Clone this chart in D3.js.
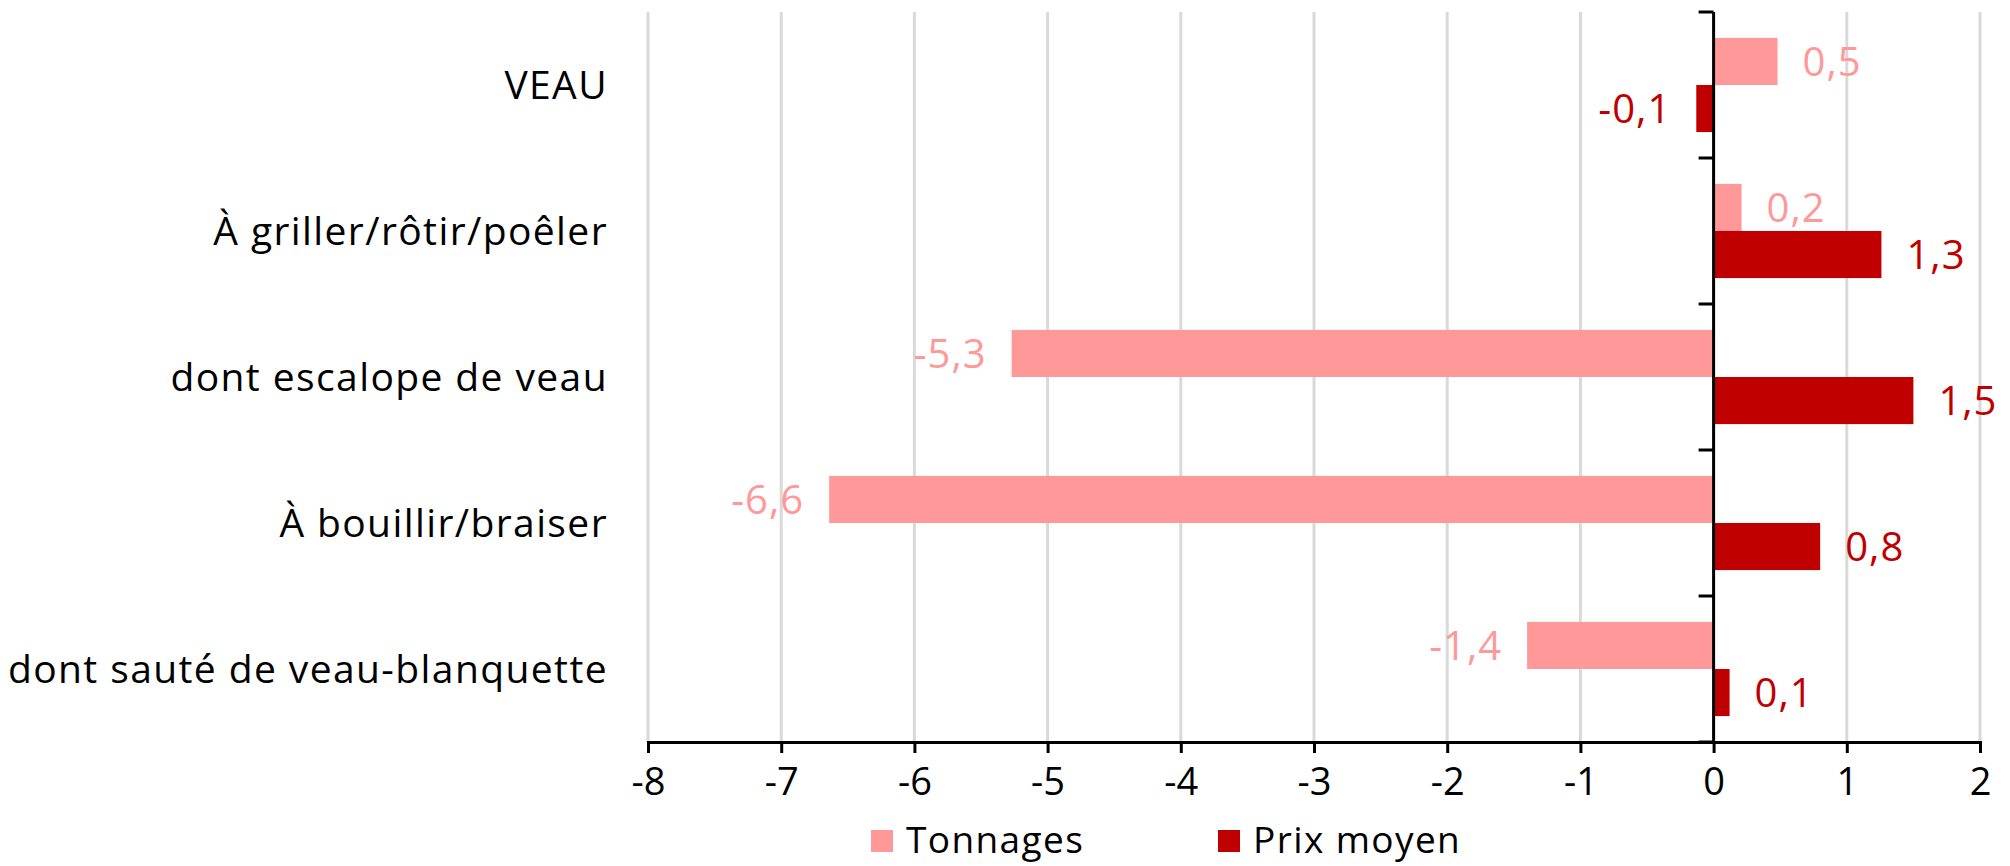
<!DOCTYPE html>
<html>
<head>
<meta charset="utf-8">
<script src="https://cdn.jsdelivr.net/npm/d3@7"></script>
<style>
  body { margin: 0; background: #fff; }
  text { font-family: "Open Sans", "Noto Sans", sans-serif; }
</style>
</head>
<body>
<script>
// categories, top to bottom
const categories = ["VEAU", "À griller/rôtir/poêler", "dont escalope de veau", "À bouillir/braiser", "dont sauté de veau-blanquette"];
const series = ["Tonnages", "Prix moyen"];
const tonnages = [0.48, 0.21, -5.27, -6.64, -1.40];
const prixMoyen = [-0.13, 1.26, 1.50, 0.80, 0.12];
const xTicks = [-8, -7, -6, -5, -4, -3, -2, -1, 0, 1, 2];

const colors = { "Tonnages": "#ff9999", "Prix moyen": "#c00000" };

const width = 2010, height = 866;
const plotLeft = 648, plotRight = 1980, plotTop = 12, plotBottom = 742;

// french number format: comma decimal, hyphen minus
const fr = d3.formatLocale({ decimal: ",", thousands: " ", grouping: [3], currency: ["", " €"], minus: "-" });
const fmt = fr.format(".1f");
const fmtTick = fr.format("d");

const rows = categories.map((c, i) => ({ cat: c, "Tonnages": tonnages[i], "Prix moyen": prixMoyen[i] }));

const svg = d3.select("body").append("svg")
    .attr("width", width)
    .attr("height", height);

const x = d3.scaleLinear().domain([-8, 2]).range([plotLeft, plotRight]);

const y0 = d3.scaleBand()
    .domain(categories)
    .range([plotTop, plotBottom])
    .paddingInner(0.355)
    .paddingOuter(0.1775);

const y1 = d3.scaleBand()
    .domain(series)
    .range([0, y0.bandwidth()]);

// gridlines
svg.append("g")
    .selectAll("line")
    .data(xTicks)
    .enter().append("line")
    .attr("x1", d => x(d)).attr("x2", d => x(d))
    .attr("y1", plotTop).attr("y2", plotBottom)
    .attr("stroke", "#d9d9d9")
    .attr("stroke-width", 3);

// bars
const groups = svg.append("g")
    .selectAll("g")
    .data(rows)
    .enter().append("g")
    .attr("transform", d => "translate(0," + y0(d.cat) + ")");

groups.selectAll("rect")
    .data(d => series.map(s => ({ key: s, value: d[s] })))
    .enter().append("rect")
    .attr("x", d => x(Math.min(0, d.value)))
    .attr("width", d => Math.abs(x(d.value) - x(0)))
    .attr("y", d => y1(d.key))
    .attr("height", y1.bandwidth())
    .attr("fill", d => colors[d.key]);

// value labels
groups.selectAll("text")
    .data(d => series.map(s => ({ key: s, value: d[s] })))
    .enter().append("text")
    .attr("x", d => d.value < 0 ? x(d.value) - 25 : x(d.value) + 25)
    .attr("y", d => y1(d.key) + y1.bandwidth() / 2)
    .attr("dy", "0.36em")
    .attr("text-anchor", d => d.value < 0 ? "end" : "start")
    .attr("font-size", 40)
    .attr("letter-spacing", 1)
    .attr("fill", d => colors[d.key])
    .text(d => fmt(d.value));

// x axis
const xAxis = svg.append("g")
    .attr("transform", "translate(0," + plotBottom + ")")
    .call(d3.axisBottom(x).tickValues(xTicks).tickFormat(fmtTick).tickSize(11).tickPadding(15));
xAxis.select(".domain").attr("stroke", "#000").attr("stroke-width", 3);
xAxis.selectAll(".tick line").attr("stroke", "#000").attr("stroke-width", 3);
xAxis.selectAll(".tick text")
    .attr("font-family", "Open Sans")
    .attr("font-size", 38)
    .attr("fill", "#000");

// y axis at zero, ticks between categories
const yBounds = d3.range(categories.length + 1).map(i => plotTop + i * y0.step());
const yAxis = svg.append("g");
yAxis.append("line")
    .attr("x1", x(0)).attr("x2", x(0))
    .attr("y1", plotTop).attr("y2", plotBottom)
    .attr("stroke", "#000").attr("stroke-width", 3);
yAxis.selectAll(".ytick")
    .data(yBounds)
    .enter().append("line")
    .attr("class", "ytick")
    .attr("x1", x(0) - 15).attr("x2", x(0))
    .attr("y1", d => d).attr("y2", d => d)
    .attr("stroke", "#000").attr("stroke-width", 3);

// category labels on the left
svg.append("g")
    .selectAll("text")
    .data(categories)
    .enter().append("text")
    .attr("x", 608)
    .attr("y", d => y0(d) + y0.bandwidth() / 2)
    .attr("dy", "0.36em")
    .attr("text-anchor", "end")
    .attr("font-size", 39)
    .attr("letter-spacing", 1.4)
    .attr("fill", "#000")
    .text(d => d);

// legend
const legendX = [871, 1218];
const legend = svg.append("g")
    .selectAll("g")
    .data(series)
    .enter().append("g")
    .attr("transform", (d, i) => "translate(" + legendX[i] + ",830)");
legend.append("rect")
    .attr("width", 22)
    .attr("height", 22)
    .attr("fill", d => colors[d]);
legend.append("text")
    .attr("x", 35)
    .attr("y", 23)
    .attr("font-size", 37)
    .attr("letter-spacing", 1.4)
    .attr("fill", "#000")
    .text(d => d);
</script>
</body>
</html>
